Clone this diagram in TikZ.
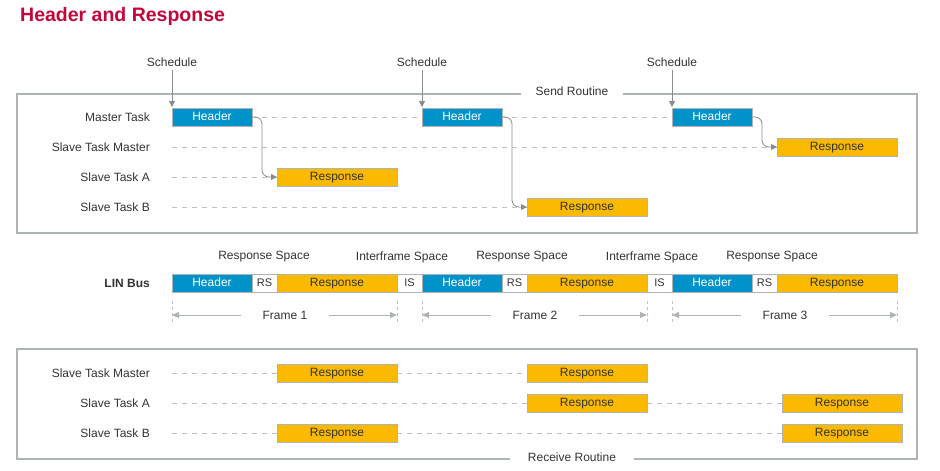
\documentclass[tikz,border=0pt]{standalone}
\usepackage{fontspec}
\setmainfont{Liberation Sans}
\usetikzlibrary{arrows.meta}
\definecolor{hblue}{HTML}{0093C9}
\definecolor{ryel}{HTML}{FBBA00}
\definecolor{bgrey}{HTML}{AEB3B6}
\definecolor{dgrey}{HTML}{C2C2C2}
\definecolor{agrey}{HTML}{878D92}
\definecolor{tred}{HTML}{C0083C}
\definecolor{txt}{HTML}{333333}
\begin{document}
\begin{tikzpicture}[x=1pt,y=-1pt, font=\fontsize{12}{14}\selectfont, text=txt,
 seg/.style={draw=bgrey, line width=1pt, minimum height=18pt, inner sep=0pt, outer sep=0pt,
   text height=9.2pt, text depth=1.8pt, anchor=west, minimum width=#1},
 hdr/.style={seg=80pt, fill=hblue, text=white},
 rsp/.style={seg=120pt, fill=ryel},
 gapbox/.style={seg=25pt, fill=white, font=\fontsize{11}{13}\selectfont},
 lbl/.style={anchor=east, inner sep=0pt},
 dl/.style={draw=dgrey, dash pattern=on 5pt off 5pt, line width=1pt},
 tick/.style={draw=dgrey, dash pattern=on 3pt off 3pt, line width=1pt},
 conn/.style={draw=agrey, line width=0.8pt, -{Triangle[length=6pt,width=6pt]}, rounded corners=7pt},
 farrow/.style={draw=bgrey, line width=1pt, -{Triangle[length=7pt,width=6pt]}},
 frm/.style={draw=bgrey, line width=1.3pt},
 flab/.style={inner xsep=21pt, inner ysep=0pt},
]
\useasboundingbox (0,0) rectangle (940,471);

% title
\node[anchor=base west, inner sep=0pt, font=\fontsize{19.5}{23}\selectfont\bfseries, text=tred] (title) at (20,21) {Header and Response};

% ---------------- Send routine ----------------
\node[inner xsep=14pt] (sendlbl) at (572,91) {Send Routine};
\draw[frm] (sendlbl.west |- 0,94) -- (17,94) -- (17,233) -- (917,233) -- (917,94) -- (sendlbl.east |- 0,94);

\node[lbl] (mt)  at (150,117) {Master Task};
\node[lbl] (stm) at (150,147) {Slave Task Master};
\node[lbl] (sta) at (150,177) {Slave Task A};
\node[lbl] (stb) at (150,207) {Slave Task B};

\coordinate (stm0) at (172,147);
\coordinate (sta0) at (172,177);
\coordinate (stb0) at (172,207);

\node[hdr] (h1) at (172,117) {Header};
\node[hdr] (h2) at (422,117) {Header};
\node[hdr] (h3) at (672,117) {Header};
\node[rsp] (sr1) at (277,177) {Response};
\node[rsp] (sr2) at (527,207) {Response};
\node[rsp] (sr3) at (777,147) {Response};

\draw[dl] (h1.east) -- (h2.west);
\draw[dl] (h2.east) -- (h3.west);
\draw[dl] (stm0) -- (sr3.west);
\draw[dl] (sta0) -- (sr1.west);
\draw[dl] (stb0) -- (sr2.west);

\node (s1) at (172,62) {Schedule};
\node (s2) at (422,62) {Schedule};
\node (s3) at (672,62) {Schedule};
\draw[conn, shorten >=1pt] (s1.south) -- (s1.south |- h1.north);
\draw[conn, shorten >=1pt] (s2.south) -- (s2.south |- h2.north);
\draw[conn, shorten >=1pt] (s3.south) -- (s3.south |- h3.north);

\draw[conn] (h1.east) -- ++(10,0) |- (sr1.west);
\draw[conn] (h2.east) -- ++(10,0) |- (sr2.west);
\draw[conn] (h3.east) -- ++(10,0) |- (sr3.west);

% ---------------- LIN bus ----------------
\node[lbl, font=\fontsize{12}{14}\selectfont\bfseries] (lin) at (150,283) {LIN Bus};
\node[hdr] (b1) at (172,283) {Header};
\node[gapbox] (rs1) at (b1.east) {RS};
\node[rsp] (br1) at (rs1.east) {Response};
\node[gapbox] (is1) at (br1.east) {IS};
\node[hdr] (b2) at (is1.east) {Header};
\node[gapbox] (rs2) at (b2.east) {RS};
\node[rsp] (br2) at (rs2.east) {Response};
\node[gapbox] (is2) at (br2.east) {IS};
\node[hdr] (b3) at (is2.east) {Header};
\node[gapbox] (rs3) at (b3.east) {RS};
\node[rsp] (br3) at (rs3.east) {Response};

\node (rsl1) at (264,257) {Response Space};
\node (isl1) at (402,257) {Interframe Space};
\node (rsl2) at (522,257) {Response Space};
\node (isl2) at (652,257) {Interframe Space};
\node (rsl3) at (772,257) {Response Space};

% frames
\foreach \x/\n in {172/a,397/b,422/c,647/d,672/e,897/f}{
  \coordinate (t\n) at (\x,315);
  \draw[tick] (\x,301) -- (\x,325);
}
\node[flab] (f1) at (285,315) {Frame 1};
\node[flab] (f2) at (535,315) {Frame 2};
\node[flab] (f3) at (785,315) {Frame 3};
\draw[farrow] (f1.west) -- (ta);
\draw[farrow] (f1.east) -- (tb);
\draw[farrow] (f2.west) -- (tc);
\draw[farrow] (f2.east) -- (td);
\draw[farrow] (f3.west) -- (te);
\draw[farrow] (f3.east) -- (tf);

% ---------------- Receive routine ----------------
\node[inner xsep=18pt] (reclbl) at (572,457) {Receive Routine};
\draw[frm] (reclbl.west |- 0,459) -- (17,459) -- (17,349) -- (917,349) -- (917,459) -- (reclbl.east |- 0,459);

\node[lbl] (rstm) at (150,373) {Slave Task Master};
\node[lbl] (rsta) at (150,403) {Slave Task A};
\node[lbl] (rstb) at (150,433) {Slave Task B};
\coordinate (rstm0) at (172,373);
\coordinate (rsta0) at (172,403);
\coordinate (rstb0) at (172,433);

\node[rsp] (q1) at (277,373) {Response};
\node[rsp] (q2) at (527,373) {Response};
\node[rsp] (q3) at (527,403) {Response};
\node[rsp] (q4) at (782,403) {Response};
\node[rsp] (q5) at (277,433) {Response};
\node[rsp] (q6) at (782,433) {Response};

\draw[dl] (rstm0) -- (q1.west);
\draw[dl] (q1.east) -- (q2.west);
\draw[dl] (rsta0) -- (q3.west);
\draw[dl] (q3.east) -- (q4.west);
\draw[dl] (rstb0) -- (q5.west);
\draw[dl] (q5.east) -- (q6.west);
\end{tikzpicture}
\end{document}
